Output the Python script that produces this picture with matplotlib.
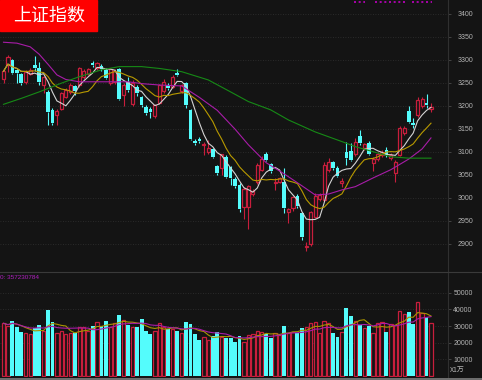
import numpy as np
import pandas as pd
import matplotlib
matplotlib.use("Agg")
import matplotlib.pyplot as plt
from matplotlib.lines import Line2D
from matplotlib.patches import Rectangle

# daily candles
opens = [3258, 3288, 3299, 3278, 3270, 3252, 3270, 3288, 3281, 3245,
         3230, 3190, 3180, 3193, 3220, 3230, 3243, 3245, 3263, 3270,
         3293, 3281, 3286, 3278, 3249, 3252, 3279, 3223, 3252, 3204,
         3241, 3218, 3198, 3192, 3178, 3205, 3232, 3245, 3241, 3272,
         3232, 3250, 3191, 3124, 3128, 3115, 3100, 3105, 3069, 3064,
         3089, 3067, 3041, 3028, 2980, 2980, 3007, 3035, 3060, 3095,
         3073, 3032, 3035, 3035, 2970, 2977, 3004, 2967, 2892, 2899,
         2959, 2998, 2995, 3060, 3078, 3064, 3031, 3100, 3101, 3095,
         3134, 3107, 3118, 3076, 3085, 3093, 3104, 3086, 3054, 3093,
         3140, 3189, 3162, 3180, 3199, 3205, 3193]
highs = [3280, 3310, 3302, 3280, 3272, 3278, 3281, 3308, 3296, 3265,
         3234, 3195, 3192, 3230, 3238, 3250, 3245, 3284, 3280, 3283,
         3298, 3296, 3290, 3282, 3282, 3280, 3283, 3250, 3262, 3255,
         3245, 3222, 3202, 3198, 3204, 3248, 3258, 3250, 3267, 3279,
         3248, 3252, 3193, 3128, 3131, 3122, 3125, 3108, 3072, 3095,
         3092, 3070, 3045, 3031, 3023, 3028, 3018, 3075, 3090, 3100,
         3076, 3042, 3046, 3064, 2978, 3004, 3008, 2970, 2904, 2972,
         3010, 3010, 3077, 3086, 3080, 3068, 3042, 3122, 3118, 3130,
         3147, 3120, 3123, 3088, 3100, 3104, 3111, 3097, 3082, 3155,
         3155, 3199, 3173, 3218, 3220, 3225, 3205]
lows = [3250, 3274, 3268, 3249, 3246, 3248, 3266, 3276, 3245, 3227,
        3158, 3158, 3158, 3190, 3216, 3226, 3223, 3240, 3258, 3266,
        3285, 3278, 3276, 3257, 3246, 3248, 3212, 3200, 3230, 3200,
        3222, 3198, 3180, 3173, 3173, 3203, 3228, 3235, 3238, 3264,
        3228, 3194, 3125, 3115, 3120, 3093, 3096, 3087, 3050, 3049,
        3043, 3028, 3022, 2970, 2953, 2933, 3004, 3030, 3057, 3080,
        3054, 3017, 3032, 2966, 2946, 2972, 2978, 2909, 2885, 2896,
        2955, 2993, 2992, 3055, 3060, 3044, 3023, 3071, 3080, 3090,
        3114, 3103, 3093, 3057, 3080, 3088, 3089, 3082, 3035, 3090,
        3137, 3163, 3151, 3176, 3195, 3194, 3187]
closes = [3275, 3306, 3272, 3271, 3249, 3274, 3277, 3283, 3252, 3262,
          3187, 3163, 3188, 3227, 3234, 3246, 3231, 3281, 3276, 3279,
          3288, 3292, 3279, 3260, 3279, 3276, 3214, 3245, 3234, 3249,
          3227, 3201, 3185, 3187, 3201, 3245, 3252, 3238, 3263, 3266,
          3244, 3201, 3127, 3118, 3123, 3117, 3107, 3089, 3053, 3094,
          3046, 3042, 3025, 2975, 3020, 3025, 3015, 3071, 3085, 3082,
          3057, 3035, 3042, 2977, 2975, 3001, 2982, 2915, 2895, 2968,
          3004, 3005, 3071, 3078, 3064, 3047, 3037, 3086, 3083, 3122,
          3118, 3116, 3096, 3085, 3096, 3100, 3093, 3093, 3078, 3151,
          3151, 3165, 3157, 3212, 3214, 3201, 3198]
# volume in units of 10k
volumes = [31650, 30030, 33230, 29630, 26630, 25630, 25030, 28630, 30430, 27030,
           39450, 32430, 26030, 27030, 25230, 25630, 25630, 29630, 29630, 27030,
           30030, 32230, 30030, 33030, 29630, 31650, 36430, 33430, 30830, 29230,
           29230, 34230, 27230, 25030, 27030, 31650, 29630, 28230, 28030, 27030,
           25630, 32430, 31430, 25030, 21620, 23220, 21620, 24020, 26230, 23630,
           22620, 22620, 20220, 24230, 20220, 24620, 25030, 27030, 26230, 25030,
           23020, 25630, 24620, 30030, 25630, 26630, 26030, 29030, 29630, 32030,
           32230, 26030, 33030, 31650, 25630, 23630, 26630, 40630, 36040, 33030,
           30630, 28630, 30030, 25630, 32030, 32230, 26630, 31230, 30630, 39040,
           37240, 38440, 31030, 44630, 37640, 35230, 31650]

# longer moving averages (they need history before the window)
ma20_idx = [0, 3, 6, 8, 10, 12, 14, 17, 22, 28, 31, 35, 40, 44, 48, 52, 55, 59,
            63, 67, 70, 73, 76, 79, 83, 87, 91, 94, 96]
ma20_val = [3338, 3336, 3328, 3312, 3290, 3267, 3257, 3252, 3252, 3252, 3248, 3245,
            3243, 3218, 3190, 3149, 3115, 3076, 3052, 3026, 3006, 3008, 3017, 3024,
            3043, 3061, 3084, 3106, 3130]
ma60_idx = [0, 4, 8, 13, 17, 22, 26, 31, 35, 40, 46, 51, 55, 60, 64, 70, 76, 79,
            83, 87, 91, 96]
ma60_val = [3203, 3216, 3230, 3249, 3263, 3278, 3285, 3285, 3281, 3274, 3256, 3230,
            3209, 3191, 3169, 3143, 3122, 3111, 3100, 3089, 3086, 3086]

price_ticks = [2900, 2950, 3000, 3050, 3100, 3150, 3200, 3250, 3300, 3350, 3400]
vol_ticks = [10000, 20000, 30000, 40000, 50000]
title = "上证指数"
vol_label = "0: 357230784"
vol_unit = "X1万"

BG = '#141414'
UP = '#c81e3c'
DOWN = '#54fcfc'
GRID = '#333333'
AXIS = '#303030'
TXT = '#b4b4b4'
NUM_FONT = ['Liberation Sans', 'DejaVu Sans']
CJK_FONT = ['Noto Sans CJK SC', 'DejaVu Sans']

o = np.array(opens, float)
h = np.array(highs, float)
l = np.array(lows, float)
c = np.array(closes, float)
v = np.array(volumes, float)
n = len(c)
x = np.arange(n)
up = c >= o

ma5 = pd.Series(c).rolling(5, min_periods=1).mean()
ma10 = pd.Series(c).rolling(10, min_periods=1).mean()
vma5 = pd.Series(v).rolling(5, min_periods=1).mean()
vma10 = pd.Series(v).rolling(10, min_periods=1).mean()

W, H = 482, 380
fig = plt.figure(figsize=(W / 100, H / 100), dpi=100, facecolor=BG)
ax = fig.add_axes([0, 108 / H, 448 / W, 272 / H], facecolor=BG)
axv = fig.add_axes([0, 3 / H, 448 / W, 105 / H], facecolor=BG)

xlim = (-3.5 / 4.453, (448 - 3.5) / 4.453)

# candles
top = np.maximum(o, c)
bot = np.minimum(o, c)
body = np.maximum(top - bot, 0.8)
cols = np.where(up, UP, DOWN)
ax.vlines(x, l, bot, colors=cols, linewidth=0.8, zorder=2)
ax.vlines(x, top, h, colors=cols, linewidth=0.8, zorder=2)
ax.bar(x[up], body[up], bottom=bot[up], width=0.7, facecolor=BG,
       edgecolor=UP, linewidth=0.9, zorder=3)
ax.bar(x[~up], body[~up], bottom=bot[~up], width=0.84, color=DOWN,
       linewidth=0, zorder=3)

ax.plot(x, ma5, color='#d4d4d4', lw=0.8, zorder=4)
ax.plot(x, ma10, color='#b89a00', lw=0.8, zorder=4)
ax.plot(ma20_idx, ma20_val, color='#a81ca8', lw=0.8, zorder=4)
ax.plot(ma60_idx, ma60_val, color='#168a16', lw=0.8, zorder=4)

ax.set_xlim(*xlim)
ax.set_ylim(2838.5, 3429.8)
ax.set_xticks([])
ax.yaxis.tick_right()
ax.set_yticks(price_ticks)
ax.tick_params(axis='y', length=2, width=0.6, color='#4a4a4a', pad=5,
               labelsize=5, labelcolor=TXT)
for lab in ax.get_yticklabels():
    lab.set_family(NUM_FONT)
ax.grid(axis='y', color=GRID, linestyle=(0, (1, 2)), linewidth=0.6)
for s in ['top', 'left', 'bottom']:
    ax.spines[s].set_visible(False)
ax.spines['right'].set_color(AXIS)
ax.spines['right'].set_linewidth(0.8)

# volume
axv.bar(x[up], v[up], width=0.74, facecolor=BG, edgecolor=UP,
        linewidth=0.9, zorder=3)
axv.bar(x[~up], v[~up], width=0.88, color=DOWN, linewidth=0, zorder=3)
axv.plot(x, vma5, color='#a89400', lw=0.8, zorder=4)
axv.plot(x, vma10, color='#a81ca8', lw=0.8, zorder=4)
axv.set_xlim(*xlim)
axv.set_ylim(-600, 62460)
axv.set_xticks([])
axv.yaxis.tick_right()
axv.set_yticks(vol_ticks)
axv.tick_params(axis='y', length=2, width=0.6, color='#4a4a4a', pad=1.8,
                labelsize=5, labelcolor=TXT)
for lab in axv.get_yticklabels():
    lab.set_family(NUM_FONT)
axv.grid(axis='y', color=GRID, linestyle=(0, (1, 2)), linewidth=0.6)
for s in ['top', 'left', 'bottom']:
    axv.spines[s].set_visible(False)
axv.spines['right'].set_color(AXIS)
axv.spines['right'].set_linewidth(0.8)
axv.text(0.0, 0.952, vol_label, transform=axv.transAxes, color='#b020c0',
         fontsize=4.6, family=NUM_FONT, ha='left', va='center')

# panel separators
fig.add_artist(Line2D([0, 1], [1 - 272 / H] * 2, color='#3a3a3a', lw=0.8))
fig.add_artist(Line2D([0, 1], [1 - 378.5 / H] * 2, color='#808080', lw=1.2))
fig.text(450 / W, 1 - 370 / H, vol_unit, color=TXT, fontsize=5,
         family=CJK_FONT, ha='left', va='center')

# title box
fig.add_artist(Rectangle((0, 1 - 31 / H), 97 / W, 31 / H, color='#ff0000',
                         transform=fig.transFigure))
fig.text(49 / W, 1 - 15.5 / H, title, color='white', fontsize=13,
         family=CJK_FONT, ha='center', va='center')

# magenta marks along the top edge
for x0, x1 in [(354, 365), (375, 405), (412, 432)]:
    fig.add_artist(Line2D([x0 / W, x1 / W], [1 - 2 / H] * 2, color='#c000c0',
                          lw=1.2, linestyle=(0, (1.2, 1.6))))

fig.savefig('out.png', dpi=100, facecolor=BG)
